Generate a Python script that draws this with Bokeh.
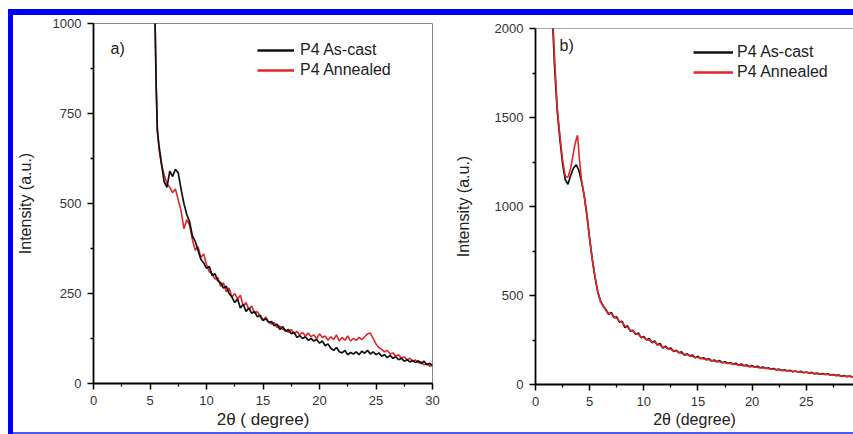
import math
from bokeh.plotting import figure
from bokeh.models import Label, Span, Spacer, FixedTicker, Legend, LegendItem
from bokeh.layouts import row, column
from bokeh.embed import file_html
from bokeh.resources import INLINE

FONT = "Liberation Sans"
BLACK = "#111111"
RED = "#e4262a"
NAN = float("nan")

# ---------------- data: panel a ----------------
A_HEAD_X = [5.3, 5.45, 5.55, 5.65, 5.8]
A_CAST_HEAD = [1150, 1000, 820, 700, 660]
A_ANN_HEAD = [1150, 1000, 830, 710, 650]
A_TAIL_START = 6.0
A_STEP = 0.25
A_CAST_TAIL = [
    615, 560, 545, 590,
    575, 595, 585, 540,
    500, 470, 450, 410,
    395, 370, 345, 335,
    320, 325, 300, 305,
    285, 280, 265, 270,
    250, 240, 225, 235,
    210, 220, 200, 210,
    195, 200, 185, 190,
    175, 180, 170, 172,
    160, 165, 150, 158,
    145, 150, 138, 142,
    128, 133, 125, 130,
    120, 125, 118, 122,
    112, 118, 105, 110,
    98, 92, 100, 88,
    85, 92, 80, 86,
    82, 88, 80, 90,
    84, 92, 82, 88,
    80, 85, 76, 80,
    72, 78, 70, 74,
    66, 70, 62, 66,
    60, 64, 58, 63,
    55, 62, 52, 56,
    50,
]
A_ANN_TAIL = [
    610, 580, 555, 545,
    530, 540, 510, 480,
    430, 455, 440, 400,
    370, 380, 350, 360,
    330, 310, 305, 290,
    295, 270, 280, 255,
    265, 240, 250, 235,
    245, 215, 225, 205,
    215, 195, 200, 185,
    175, 185, 170, 165,
    170, 155, 160, 150,
    148, 142, 150, 138,
    145, 135, 142, 132,
    140, 130, 135, 125,
    138, 128, 132, 120,
    130, 122, 135, 118,
    128, 120, 132, 118,
    125, 120, 128, 122,
    130, 138, 140, 125,
    110, 100, 95, 88,
    92, 82, 85, 76,
    80, 70, 74, 66,
    70, 62, 65, 58,
    60, 52, 55, 48,
    50,
]

# ---------------- data: panel b ----------------
B_CAST_HEAD_X = [1.5, 1.75, 2.0, 2.25, 2.5, 2.75, 3.0, 3.25, 3.5, 3.75, 4.0, 4.25,
                 4.5, 4.75, 5.0, 5.25, 5.5, 5.75]
B_CAST_HEAD = [2150, 1800, 1540, 1380, 1240, 1150, 1125, 1175, 1215, 1235, 1205, 1140,
               1060, 950, 820, 700, 600, 520]
B_ANN_HEAD_X = [1.5, 1.75, 2.0, 2.25, 2.5, 2.75, 3.0, 3.25, 3.5, 3.65, 3.8, 3.88, 3.95,
                4.05, 4.25, 4.5, 4.75, 5.0, 5.25, 5.5, 5.75]
B_ANN_HEAD = [2200, 1850, 1560, 1400, 1260, 1170, 1165, 1215, 1300, 1350, 1385, 1400, 1350,
              1270, 1150, 1060, 950, 815, 700, 605, 520]
B_TAIL_START = 6.0
B_STEP = 0.25
B_CAST_TAIL = [
    470, 440, 420, 395,
    405, 375, 380, 350,
    355, 320, 330, 300,
    305, 280, 290, 262,
    270, 250, 258, 235,
    245, 222, 230, 205,
    215, 200, 205, 185,
    192, 178, 183, 165,
    172, 160, 165, 150,
    158, 145, 150, 140,
    145, 132, 138, 128,
    134, 122, 128, 118,
    124, 112, 120, 108,
    115, 105, 110, 100,
    106, 98, 102, 94,
    98, 90, 94, 86,
    90, 82, 86, 78,
    82, 76, 80, 72,
    76, 70, 74, 66,
    70, 64, 68, 60,
    64, 58, 62, 56,
    60, 52, 56, 50,
    54, 46, 50, 44,
    48, 42, 45,
]
B_ANN_TAIL = [
    465, 445, 415, 400,
    398, 380, 372, 355,
    348, 328, 322, 305,
    300, 285, 282, 266,
    264, 252, 250, 238,
    238, 225, 222, 208,
    210, 200, 198, 188,
    188, 180, 176, 168,
    168, 160, 158, 152,
    152, 147, 144, 140,
    140, 134, 132, 128,
    128, 124, 122, 118,
    118, 114, 113, 109,
    109, 106, 104, 101,
    100, 98, 96, 94,
    93, 91, 89, 87,
    86, 84, 82, 80,
    79, 78, 76, 74,
    73, 72, 70, 68,
    67, 66, 64, 62,
    61, 60, 58, 57,
    56, 54, 53, 52,
    50, 48, 47, 46,
    45, 44, 43,
]

X_TICKS = [0, 5, 10, 15, 20, 25, 30]
X_MINOR = [2.5, 7.5, 12.5, 17.5, 22.5, 27.5]
A_Y_TICKS = [0, 250, 500, 750, 1000]
A_Y_MINOR = [125, 375, 625, 875]
B_Y_TICKS = [0, 500, 1000, 1500, 2000]
B_Y_MINOR = [250, 750, 1250, 1750]
A_X_RANGE = (0, 30)
A_Y_RANGE = (0, 1000)
B_X_RANGE = (0, 29.36)
B_Y_RANGE = (0, 2000)

LEGEND_LABELS = ["P4 As-cast", "P4 Annealed"]
Y_TITLE = "Intensity (a.u.)"
A_X_TITLE = "2\u03b8 ( degree)"
B_X_TITLE = "2\u03b8 (degree)"


def build_xy(head_x, head_y, start, step, tail):
    xs = list(head_x) + [start + step * i for i in range(len(tail))]
    ys = list(head_y) + list(tail)
    return xs, ys


def style(p, yticks, yminor, xtitle, xsize, xstand, ystand):
    p.grid.visible = False
    p.background_fill_color = "white"
    p.border_fill_color = "white"
    p.xaxis.ticker = FixedTicker(ticks=X_TICKS, minor_ticks=X_MINOR)
    p.yaxis.ticker = FixedTicker(ticks=yticks, minor_ticks=yminor)
    for ax in (p.xaxis[0], p.yaxis[0]):
        ax.axis_line_color = "black"
        ax.axis_line_width = 1.8
        ax.major_tick_line_color = "black"
        ax.major_tick_line_width = 1.5
        ax.minor_tick_line_color = "black"
        ax.minor_tick_line_width = 1.3
        ax.major_tick_out = 6
        ax.major_tick_in = 0
        ax.minor_tick_out = 3
        ax.minor_tick_in = 0
        ax.major_label_text_font = FONT
        ax.major_label_text_font_size = "13px"
        ax.major_label_text_color = "#333333"
        ax.major_label_standoff = 6
        ax.axis_label_text_font = FONT
        ax.axis_label_text_font_style = "normal"
        ax.axis_label_text_color = "#222222"
    p.xaxis.axis_label = xtitle
    p.xaxis.axis_label_text_font_size = xsize
    p.xaxis.axis_label_standoff = xstand
    p.yaxis.axis_label = Y_TITLE
    p.yaxis.axis_label_text_font_size = "16px"
    p.yaxis.axis_label_standoff = ystand


def add_legend(p, r_cast, r_ann, loc, glyph_w, standoff):
    leg = Legend(items=[LegendItem(label=LEGEND_LABELS[0], renderers=[r_cast]),
                        LegendItem(label=LEGEND_LABELS[1], renderers=[r_ann])],
                 location=loc, orientation="vertical")
    leg.border_line_color = None
    leg.background_fill_alpha = 0
    leg.padding = 0
    leg.margin = 0
    leg.spacing = 0
    leg.glyph_width = glyph_w
    leg.glyph_height = 20
    leg.label_height = 20
    leg.label_standoff = standoff
    leg.label_text_font = FONT
    leg.label_text_font_size = "16px"
    leg.label_text_color = "#222222"
    p.add_layout(leg)


def text_label(p, text, x, y, size):
    p.add_layout(Label(x=x, y=y, x_units="screen", y_units="screen", text=text,
                       text_align="left", text_baseline="middle",
                       text_font=FONT, text_font_size=size, text_color="#222222"))


# ---------------- panel a ----------------
p1 = figure(width=427, height=417, x_range=A_X_RANGE, y_range=A_Y_RANGE,
            output_backend="svg", toolbar_location=None, title=None,
            min_border_left=78, min_border_right=8, min_border_top=8, min_border_bottom=49)
style(p1, A_Y_TICKS, A_Y_MINOR, A_X_TITLE, "17px", 2, 16)
p1.outline_line_color = "#8a8a8a"
p1.outline_line_width = 1

ax_c, ay_c = build_xy(A_HEAD_X, A_CAST_HEAD, A_TAIL_START, A_STEP, A_CAST_TAIL)
ax_a, ay_a = build_xy(A_HEAD_X, A_ANN_HEAD, A_TAIL_START, A_STEP, A_ANN_TAIL)
p1.line(ax_a, ay_a, line_color=RED, line_width=1.6)
p1.line(ax_c, ay_c, line_color=BLACK, line_width=1.7)
lc1 = p1.line([NAN], [NAN], line_color=BLACK, line_width=2.6)
la1 = p1.line([NAN], [NAN], line_color=RED, line_width=2.6)
add_legend(p1, lc1, la1, (164, 303), 37, 6)
text_label(p1, "a)", 17, 335, "16px")

# ---------------- panel b ----------------
p2 = figure(width=413, height=417, x_range=B_X_RANGE, y_range=B_Y_RANGE,
            output_backend="svg", toolbar_location=None, title=None,
            min_border_left=95, min_border_right=0, min_border_top=13, min_border_bottom=48)
style(p2, B_Y_TICKS, B_Y_MINOR, B_X_TITLE, "16px", 2, 20)
p2.outline_line_color = None
p2.add_layout(Span(location=B_Y_RANGE[1], dimension="width", line_color="#555555", line_width=1))

bx_c, by_c = build_xy(B_CAST_HEAD_X, B_CAST_HEAD, B_TAIL_START, B_STEP, B_CAST_TAIL)
bx_a, by_a = build_xy(B_ANN_HEAD_X, B_ANN_HEAD, B_TAIL_START, B_STEP, B_ANN_TAIL)
p2.line(bx_c, by_c, line_color=BLACK, line_width=1.7)
p2.line(bx_a, by_a, line_color=RED, line_width=1.6)
lc2 = p2.line([NAN], [NAN], line_color=BLACK, line_width=2.6)
la2 = p2.line([NAN], [NAN], line_color=RED, line_width=2.6)
add_legend(p2, lc2, la2, (158, 302), 40, 4)
text_label(p2, "b)", 24, 339, "16px")

# ---------------- frame (blue border) ----------------
BLUE = "#0000f5"
BLUE2 = "#4a5af0"
inner = column(
    Spacer(width=840, height=6, styles={"background-color": BLUE}),
    row(column(p1), column(p2)),
    Spacer(width=840, height=2, styles={"background-color": BLUE2}),
)
mid = row(
    Spacer(width=8, height=425, styles={"background-color": "white"}),
    Spacer(width=5, height=425, styles={"background-color": BLUE}),
    inner,
)
page = column(Spacer(width=853, height=9, styles={"background-color": "white"}), mid)

open("out.html", "w").write(file_html(page, INLINE))
